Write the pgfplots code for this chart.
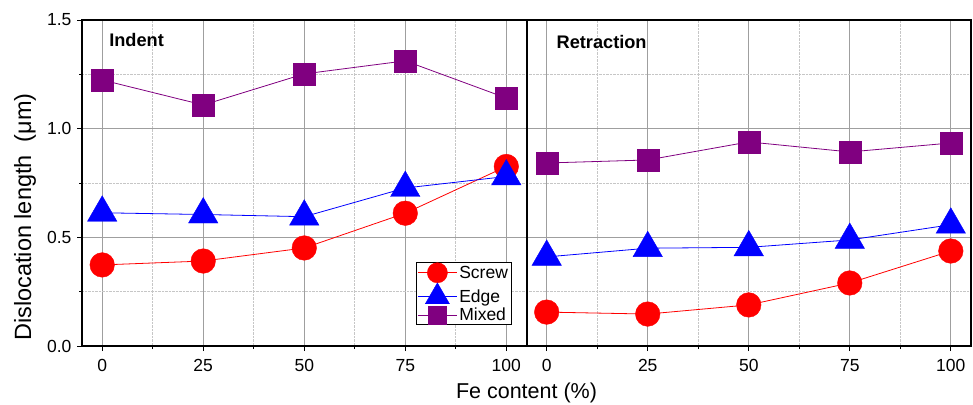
\documentclass[border=0pt]{standalone}
\usepackage{pgfplots}
\pgfplotsset{compat=1.18}
\usepackage{fontspec}
\setmainfont{Liberation Sans}
\definecolor{mixc}{RGB}{128,0,128}
\pgfplotstableread{
x y
0 0.373
25 0.391
50 0.451
75 0.611
100 0.826
}\screwA
\pgfplotstableread{
x y
0 0.613
25 0.605
50 0.595
75 0.727
100 0.780
}\edgeA
\pgfplotstableread{
x y
0 1.224
25 1.109
50 1.252
75 1.312
100 1.141
}\mixA
\pgfplotstableread{
x y
110 0.156
135 0.147
160 0.189
185 0.290
210 0.437
}\screwB
\pgfplotstableread{
x y
110 0.410
135 0.450
160 0.454
185 0.488
210 0.558
}\edgeB
\pgfplotstableread{
x y
110 0.842
135 0.856
160 0.939
185 0.893
210 0.934
}\mixB
\begin{document}
\begin{tikzpicture}[x=1pt,y=1pt]
\useasboundingbox (0,0) rectangle (973,404);
\begin{axis}[
  at={(82pt,58pt)}, anchor=south west,
  scale only axis, width=889pt, height=326pt,
  xmin=-5, xmax=215, ymin=0, ymax=1.5,
  xtick={0,25,50,75,100,110,135,160,185,210},
  xticklabels={0,25,50,75,100,0,25,50,75,100},
  minor xtick={12.5,37.5,62.5,87.5,122.5,147.5,172.5,197.5},
  ytick={0,0.5,1,1.5},
  minor ytick={0.25,0.75,1.25},
  yticklabel style={/pgf/number format/fixed,/pgf/number format/precision=1,/pgf/number format/fixed zerofill},
  /pgf/number format/assume math mode=true,
  tick label style={font=\fontsize{17.5}{19}\selectfont},
  xticklabel style={yshift=-5pt},
  yticklabel style={xshift=-2pt},
  grid=both,
  major grid style={gray!75, line width=0.9pt},
  minor grid style={gray!45, densely dotted, line width=0.7pt},
  tick align=outside,
  xtick pos=bottom, ytick pos=left,
  major tick length=5pt, minor tick length=3pt,
  tick style={black, line width=0.8pt},
  axis line style={black, line width=1.1pt},
  legend cell align=left,
  legend style={at={(axis cs:77.7,0.387)}, anchor=north west, draw=black, line width=0.6pt,
    inner xsep=1pt, inner ysep=0.5pt, font=\fontsize{17.5}{19}\selectfont,
    row sep=0pt, nodes={inner sep=2pt}},
  legend image code/.code={\draw[mark repeat=2,mark phase=2,#1,every mark/.append style={scale=0.82}] plot coordinates {(0pt,0pt) (19.5pt,0pt) (39pt,0pt)};},
]
\addplot[red, line width=0.8pt, mark=*, mark size=12.3pt, mark options={fill=red, draw=red, line width=0.4pt}] table {\screwA};
\addlegendentry{Screw}
\addplot[blue, line width=0.8pt, mark=triangle*, mark size=17pt, mark options={fill=blue, draw=blue, line width=0.4pt}] table {\edgeA};
\addlegendentry{Edge}
\addplot[mixc, line width=0.8pt, mark=square*, mark size=11pt, mark options={fill=mixc, draw=mixc, line width=0.4pt}] table {\mixA};
\addlegendentry{Mixed}
\addplot[red, line width=0.8pt, mark=*, mark size=12.3pt, mark options={fill=red, draw=red, line width=0.4pt}, forget plot] table {\screwB};
\addplot[blue, line width=0.8pt, mark=triangle*, mark size=17pt, mark options={fill=blue, draw=blue, line width=0.4pt}, forget plot] table {\edgeB};
\addplot[mixc, line width=0.8pt, mark=square*, mark size=11pt, mark options={fill=mixc, draw=mixc, line width=0.4pt}, forget plot] table {\mixB};
\draw[black, line width=2pt] (axis cs:105,0) -- (axis cs:105,1.5);
\node[anchor=base west, font=\fontsize{18.2}{20}\selectfont\bfseries, inner sep=0pt] at (axis cs:1.7,1.376) {Indent};
\node[anchor=base west, font=\fontsize{18.2}{20}\selectfont\bfseries, inner sep=0pt] at (axis cs:112.4,1.367) {Retraction};
\end{axis}
\node[anchor=base, font=\fontsize{21.5}{24}\selectfont, inner sep=0pt] at (526.5,6) {Fe content (\%)};
\node[rotate=90, anchor=base, font=\fontsize{23.5}{26}\selectfont, inner sep=0pt] at (31,187) {Dislocation length\ \ (μm)};
\end{tikzpicture}
\end{document}
